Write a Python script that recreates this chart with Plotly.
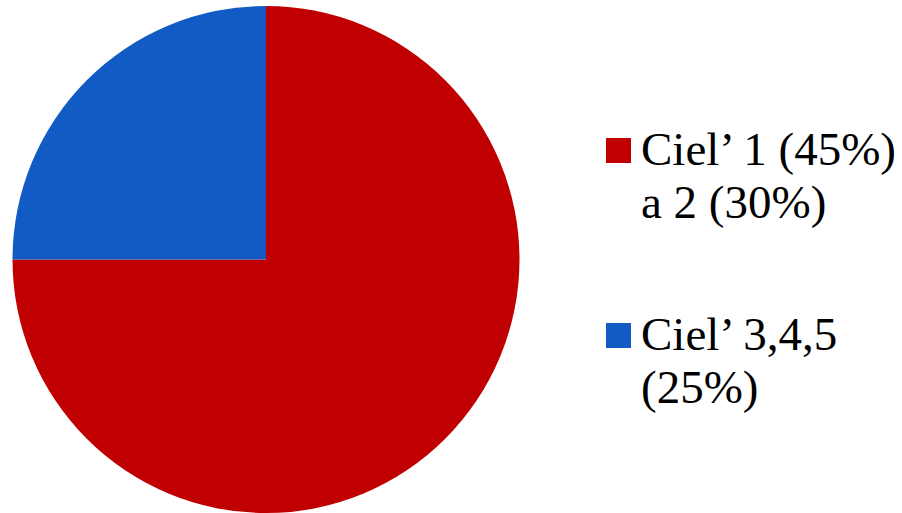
import plotly.graph_objects as go

labels = ["Ciel’ 1 (45%)<br>a 2 (30%)", "Ciel’ 3,4,5<br>(25%)"]
values = [75, 25]
colors = ["#C00000", "#125AC4"]

W, H = 902, 513
ML, MT = 12, 6
PW, PH = W - ML, H - MT

fig = go.Figure(go.Pie(
    labels=labels, values=values, sort=False, direction="clockwise", rotation=0,
    marker=dict(colors=colors, line=dict(width=0)),
    textinfo="none", showlegend=False, hoverinfo="label+percent",
    domain=dict(x=[0, 508 / PW], y=[0, 1]),
))

def px_x(x):
    return (x - ML) / PW

def px_y(y):
    return 1 - (y - MT) / PH

# manual legend (one annotation per text line for exact line spacing)
FS = 47
font = dict(family="Liberation Serif, DejaVu Serif, serif", size=FS, color="#000000")
first_baselines = [165, 350]
LINE_GAP = 53
for lab, col, base in zip(labels, colors, first_baselines):
    sq_top = base - 27
    fig.add_shape(type="rect", xref="paper", yref="paper",
                  x0=px_x(606), x1=px_x(631),
                  y0=px_y(sq_top), y1=px_y(sq_top + 25),
                  fillcolor=col, line=dict(width=0))
    for i, line in enumerate(lab.split("<br>")):
        b = base + i * LINE_GAP
        center = b - (0.891 - 1.107 / 2) * FS
        fig.add_annotation(xref="paper", yref="paper", x=px_x(639),
                           y=px_y(center), xanchor="left", yanchor="middle",
                           align="left", text=line, showarrow=False, font=font)

fig.update_layout(width=W, height=H, margin=dict(l=ML, r=0, t=MT, b=0),
                  paper_bgcolor="white", plot_bgcolor="white")
fig.write_html("out.html", config={"displayModeBar": False},
               post_script="document.body.style.margin='0';")
